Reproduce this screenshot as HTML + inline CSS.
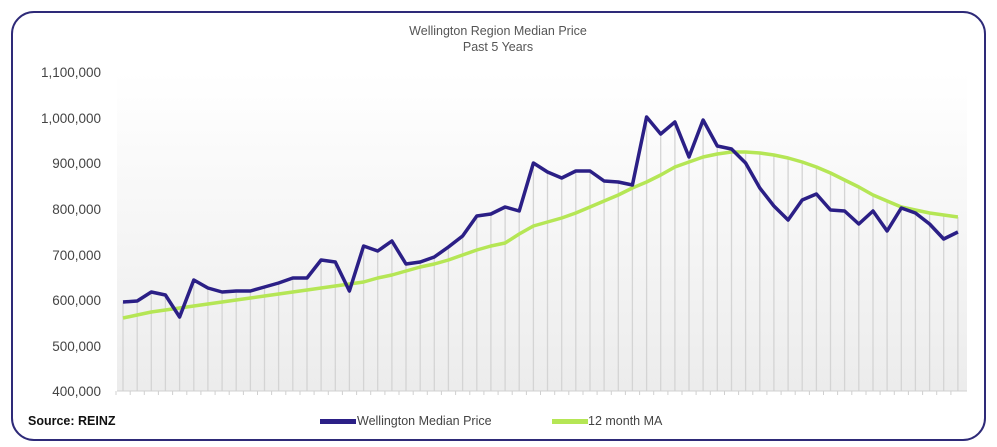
<!DOCTYPE html>
<html><head><meta charset="utf-8"><style>
html,body{margin:0;padding:0;background:#fff;}
svg{display:block;font-family:"Liberation Sans",sans-serif;}
</style></head><body>
<svg width="997" height="447" viewBox="0 0 997 447" xmlns="http://www.w3.org/2000/svg">
<defs><linearGradient id="bg" x1="0" y1="0" x2="0" y2="1"><stop offset="0" stop-color="#ffffff"/><stop offset="1" stop-color="#ececec"/></linearGradient></defs>
<rect x="12" y="12" width="973" height="428" rx="22" fill="#fff" stroke="#2e2a78" stroke-width="2"/>
<rect x="117" y="72" width="850" height="319" fill="url(#bg)"/>
<text x="498" y="35" text-anchor="middle" font-size="12.5" fill="#555">Wellington Region Median Price</text>
<text x="498" y="51" text-anchor="middle" font-size="12.5" fill="#555">Past 5 Years</text>
<g font-size="13.5" fill="#444" text-anchor="end">
<text x="101" y="77">1,100,000</text><text x="101" y="123">1,000,000</text><text x="101" y="168">900,000</text><text x="101" y="214">800,000</text><text x="101" y="260">700,000</text><text x="101" y="305">600,000</text><text x="101" y="351">500,000</text><text x="101" y="396">400,000</text>
</g>
<g id="drops" stroke="#d4d4d4" stroke-width="1.3"></g>
<line x1="117" y1="391" x2="967" y2="391" stroke="#d0d0d0" stroke-width="1"/>
<g id="ticks" stroke="#d0d0d0" stroke-width="1"></g>
<polyline id="green" fill="none" stroke="#b5e655" stroke-width="3.5" stroke-linejoin="round"/>
<polyline id="blue" fill="none" stroke="#2b1f86" stroke-width="3.5" stroke-linejoin="round"/>
<text x="28" y="425" font-size="12.5" font-weight="bold" fill="#111">Source: REINZ</text>
<rect x="320" y="419" width="36" height="5" fill="#2b1f86"/>
<text x="357" y="425" font-size="12.5" fill="#444">Wellington Median Price</text>
<rect x="552" y="419" width="36" height="5" fill="#b5e655"/>
<text x="588" y="425" font-size="12.5" fill="#444">12 month MA</text>
</svg>
<script>
var b=[302,301,292,295,317,280,288,292,291,291,287,283,278,278,260,262,291,246,251,241,264,262,257,247,236,216,214,207,211,163,172,178,171,171,181,182,185,117,134,122,157,120,146,149,163,188,206,220,200,194,210,211,224,211,231,208,213,224,239,232];
var g=[318,315,312,310,308,306,304,302,300,298,296,294,292,290,288,286,284,282,278,275,271,267,264,260,255,250,246,243,234,226,222,218,213,207,201,195,188,182,175,167,162,157,154,152,152,153,155,158,162,167,173,180,187,195,201,207,210,213,215,217];
var ns="http://www.w3.org/2000/svg",pb=[],pg=[],d=document.getElementById("drops"),t=document.getElementById("ticks");
for(var i=0;i<60;i++){var x=(123+i*14.15).toFixed(1);pb.push(x+","+b[i]);pg.push(x+","+g[i]);
var l=document.createElementNS(ns,"line");l.setAttribute("x1",x);l.setAttribute("x2",x);l.setAttribute("y1",Math.min(b[i],g[i]));l.setAttribute("y2",391);d.appendChild(l);
var k=document.createElementNS(ns,"line");var tx=(116+i*14.15).toFixed(1);k.setAttribute("x1",tx);k.setAttribute("x2",tx);k.setAttribute("y1",391);k.setAttribute("y2",395);t.appendChild(k);}
document.getElementById("blue").setAttribute("points",pb.join(" "));
document.getElementById("green").setAttribute("points",pg.join(" "));
</script>
</body></html>
